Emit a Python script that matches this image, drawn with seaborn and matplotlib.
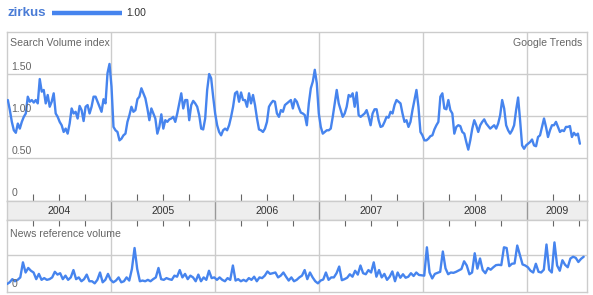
import numpy as np
import pandas as pd
import matplotlib
matplotlib.use("Agg")
import matplotlib.pyplot as plt
import matplotlib.dates as mdates
import seaborn as sns

# ---------------- data ----------------
term = "zirkus"
legend_value = "1.00"
years = [2004, 2005, 2006, 2007, 2008, 2009]
search_ticks = [0, 0.5, 1.0, 1.5]
search_tick_labels = ["0", "0.50", "1.00", "1.50"]
search_title = "Search Volume index"
news_title = "News reference volume"
brand = "Google Trends"

# weekly search volume index (from first week of 2004)
search_2004_2005 = [
    1.19, 1.07, 0.93, 0.83, 0.80, 0.91, 0.85, 0.93, 0.99, 1.03,
    1.23, 1.17, 1.19, 1.16, 1.19, 1.15, 1.44, 1.29, 1.31, 1.15,
    1.25, 1.11, 1.17, 1.27, 1.03, 0.99, 0.93, 0.89, 0.81, 0.85,
    0.79, 0.91, 1.09, 1.03, 1.05, 0.97, 1.12, 1.07, 0.94, 1.11,
    1.13, 1.03, 1.11, 1.23, 1.23, 1.17, 1.11, 1.05, 1.20, 1.15,
    1.51, 1.62, 1.35, 0.87, 0.83, 0.81, 0.71, 0.73, 0.77, 0.79,
    0.93, 1.01, 1.11, 1.05, 1.07, 1.20, 1.23, 1.33, 1.27, 1.21,
    1.09, 0.95, 1.09, 1.03, 0.97, 0.79, 0.87, 1.02, 0.85, 0.95,
    0.93, 0.96, 0.97, 0.99, 0.93, 1.03, 1.15, 1.27, 1.09, 1.19,
    1.19, 0.95, 1.13, 1.18, 1.15, 1.11, 1.01,
]
search_2005_2007 = [
    0.85, 0.84, 0.97, 1.31, 1.50, 1.45, 1.23, 1.03, 0.89, 0.81,
    0.77, 0.83, 0.85, 0.83, 0.89, 0.99, 1.11, 1.27, 1.29, 1.17,
    1.28, 1.19, 1.19, 1.11, 1.27, 1.15, 1.25, 1.13, 0.97, 0.84,
    0.83, 0.81, 0.85, 0.93, 1.11, 1.15, 1.18, 1.17, 1.03, 0.99,
    1.07, 1.05, 1.13, 1.15, 1.17, 1.19, 1.09, 1.20, 1.17, 1.10,
    1.04, 1.03, 1.01, 0.89, 1.15, 1.33, 1.41, 1.55, 1.39, 1.03,
    0.87, 0.79, 0.81, 0.83, 0.83, 0.85, 0.99, 1.15, 1.31, 1.15,
    1.07, 0.99, 1.03, 1.11, 1.25, 1.23, 1.27, 1.11, 1.28, 1.01,
    0.99, 1.01, 1.03, 1.07, 0.99, 0.89, 1.03, 1.08, 1.08, 0.95,
    0.87, 0.88, 0.93, 0.99, 0.98, 1.05, 1.03, 1.13, 1.19,
]
search_2007_2009 = [
    1.17, 1.15, 1.03, 0.93, 0.95, 0.87, 0.93, 1.07, 1.19, 1.31,
    1.11, 0.81, 0.77, 0.71, 0.71, 0.73, 0.76, 0.77, 0.84, 0.89,
    0.93, 1.23, 1.27, 1.09, 1.08, 1.19, 1.07, 1.03, 0.79, 0.87,
    0.89, 0.88, 0.81, 0.79, 0.69, 0.60, 0.71, 0.85, 0.95, 0.89,
    0.81, 0.89, 0.93, 0.96, 0.91, 0.88, 0.85, 0.87, 0.89, 0.85,
    0.91, 1.01, 1.19, 1.09, 0.89, 0.83, 0.79, 0.83, 0.89, 1.07,
    1.22, 0.95, 0.65, 0.61, 0.65, 0.67, 0.69, 0.72, 0.65, 0.64,
    0.75, 0.77, 0.87, 0.97, 0.87, 0.75, 0.83, 0.89, 0.89, 0.93,
    0.87, 0.81, 0.83, 0.82, 0.87, 0.87, 0.88, 0.75, 0.80, 0.77,
    0.79, 0.67,
]

# news reference volume (relative), sampled every ~9 days
news_2004_2006 = [
    0.17, 0.22, 0.31, 0.25, 0.29, 0.36, 0.79, 0.50, 0.63, 0.55,
    0.50, 0.31, 0.46, 0.29, 0.34, 0.29, 0.31, 0.36, 0.52, 0.44,
    0.48, 0.31, 0.41, 0.29, 0.36, 0.57, 0.31, 0.36, 0.25, 0.31,
    0.44, 0.25, 0.25, 0.19, 0.29, 0.50, 0.22, 0.29, 0.46, 0.29,
    0.22, 0.27, 0.36, 0.22, 0.25, 0.36, 0.27, 0.60, 1.20, 0.60,
    0.25, 0.27, 0.25, 0.29, 0.25, 0.31, 0.36, 0.63, 0.31, 0.29,
    0.34, 0.31, 0.29, 0.41, 0.38, 0.57, 0.36, 0.46, 0.31, 0.41,
    0.36, 0.25, 0.44, 0.25, 0.36, 0.29, 0.55, 0.34, 0.36, 0.29,
    0.36, 0.29, 0.25, 0.34, 0.29, 0.70, 0.27, 0.31, 0.25, 0.29,
    0.25, 0.34, 0.29, 0.38, 0.25, 0.36, 0.34, 0.41, 0.53, 0.46,
    0.48, 0.50, 0.36, 0.41, 0.50, 0.38, 0.27, 0.36, 0.25, 0.29,
    0.36, 0.41,
]
news_2006_2009 = [
    0.57, 0.31, 0.50, 0.36, 0.25, 0.19, 0.27, 0.30, 0.50, 0.29,
    0.36, 0.36, 0.48, 0.67, 0.28, 0.31, 0.35, 0.45, 0.38, 0.55,
    0.44, 0.70, 0.48, 0.45, 0.57, 0.50, 0.79, 0.38, 0.57, 0.36,
    0.46, 0.29, 0.38, 0.53, 0.25, 0.50, 0.35, 0.45, 0.35, 0.38,
    0.48, 0.40, 0.50, 0.43, 0.42, 0.41, 1.22, 0.50, 0.33, 0.46,
    0.49, 0.52, 1.10, 0.62, 0.45, 0.50, 0.49, 0.52, 0.56, 0.60,
    0.82, 0.70, 0.45, 0.50, 1.05, 0.61, 0.90, 0.57, 0.48, 0.63,
    0.58, 0.65, 0.71, 0.72, 0.71, 1.22, 1.20, 0.68, 0.75, 0.76,
    1.27, 1.00, 0.73, 0.70, 0.65, 0.55, 0.50, 0.75, 0.52, 0.50,
    0.58, 1.30, 0.58, 0.50, 1.36, 0.70, 0.55, 0.85, 0.72, 0.65,
    0.90, 0.95, 0.92, 0.80, 0.89, 0.95,
]

# ---------------- frames ----------------
search_vals = search_2004_2005 + search_2005_2007 + search_2007_2009
news_vals = news_2004_2006 + news_2006_2009
search_df = pd.DataFrame({
    "date": pd.date_range("2004-01-04", periods=len(search_vals), freq="7D"),
    "value": search_vals,
})
news_df = pd.DataFrame({
    "date": pd.date_range("2004-01-01", periods=len(news_vals), freq="224h"),
    "value": news_vals,
})

# ---------------- style ----------------
sns.set_style("white")
plt.rcParams["font.family"] = ["Liberation Sans", "DejaVu Sans"]
LINE = "#4684ee"
GRID = "#cccccc"
TXT = "#666666"

W, H = 593, 295
fig = plt.figure(figsize=(W / 100, H / 100), dpi=100)


def rect(x0, y0, x1, y1):
    return [x0 / W, 1 - y1 / H, (x1 - x0) / W, (y1 - y0) / H]


ax = fig.add_axes(rect(7, 32, 587, 201))
band = fig.add_axes(rect(7, 201, 587, 220))
ax2 = fig.add_axes(rect(7, 220, 587, 292))

x0 = pd.Timestamp("2004-01-01")
x1 = x0 + pd.Timedelta(days=580 / 104 * 365.25)
boundaries = [pd.Timestamp(f"{y}-01-01") for y in years[1:]]
quarters = [pd.Timestamp(f"{y}-{m:02d}-01") for y in years for m in (4, 7, 10)]
quarters = [q for q in quarters if q < x1]

for a in (ax, band, ax2):
    a.set_xlim(x0, x1)
    for s in a.spines.values():
        s.set_color(GRID)
        s.set_linewidth(1)
    for b in boundaries:
        a.axvline(b, color=GRID if a is not band else "#999999", lw=1, zorder=1)
    a.set_yticks([])
    a.set_xticks(quarters)
    a.set_xticklabels([])
    a.set_xlabel("")
    a.set_ylabel("")

# top chart
sns.lineplot(data=search_df, x="date", y="value", ax=ax, color=LINE, lw=1.7, zorder=3)
ax.set_ylim(-1 / 84, 2.0)
for t in search_ticks[1:]:
    ax.axhline(t, color=GRID, lw=1, zorder=1)
for t, lab in zip(search_ticks, search_tick_labels):
    ax.annotate(lab, xy=(x0, t), xytext=(3, 1.5), textcoords="offset points",
                fontsize=7.6, color=TXT, va="bottom", ha="left", zorder=4)
ax.tick_params(axis="x", direction="in", length=5, width=0.8, color="#666666",
               bottom=True, top=False, pad=0)
ax.set_xlabel("")
ax.set_ylabel("")

# year band
band.set_facecolor("#eeeeee")
band.set_ylim(0, 1)
band.tick_params(axis="x", length=0)
for i, y in enumerate(years):
    a0 = max(pd.Timestamp(f"{y}-01-01"), x0)
    a1 = min(pd.Timestamp(f"{y + 1}-01-01"), x1)
    band.text(a0 + (a1 - a0) / 2, 0.5, str(y), ha="center", va="center",
              fontsize=7.6, color="#333333")

# bottom chart
sns.lineplot(data=news_df, x="date", y="value", ax=ax2, color=LINE, lw=1.7, zorder=3)
ax2.set_ylim(-2 / 35, 70 / 35)
ax2.axhline(1.0, color=GRID, lw=1, zorder=1)
ax2.annotate("0", xy=(x0, 0), xytext=(3, 1), textcoords="offset points",
             fontsize=7.6, color=TXT, va="bottom", ha="left", zorder=4)
ax2.tick_params(axis="x", direction="in", length=4, width=0.8, color="#666666",
                bottom=False, top=True, pad=0)
ax2.set_xlabel("")
ax2.set_ylabel("")

# texts
fig.text(10 / W, 1 - 43 / H, search_title, fontsize=7.6, color=TXT, va="center", ha="left")
fig.text(582 / W, 1 - 43 / H, brand, fontsize=7.6, color=TXT, va="center", ha="right")
fig.text(10 / W, 1 - 234 / H, news_title, fontsize=7.6, color=TXT, va="center", ha="left")

# legend
fig.text(8 / W, 1 - 13 / H, term, fontsize=9.6, fontweight="bold", color="#4a7cd6",
         va="center", ha="left")
fig.add_artist(plt.Line2D([52 / W, 122 / W], [1 - 13 / H, 1 - 13 / H], color=LINE,
                          lw=3.2, solid_capstyle="butt"))
fig.text(126 / W, 1 - 13.5 / H, legend_value, fontsize=7.4, color="#333333",
         va="center", ha="left")

fig.savefig("out.png", dpi=100)
